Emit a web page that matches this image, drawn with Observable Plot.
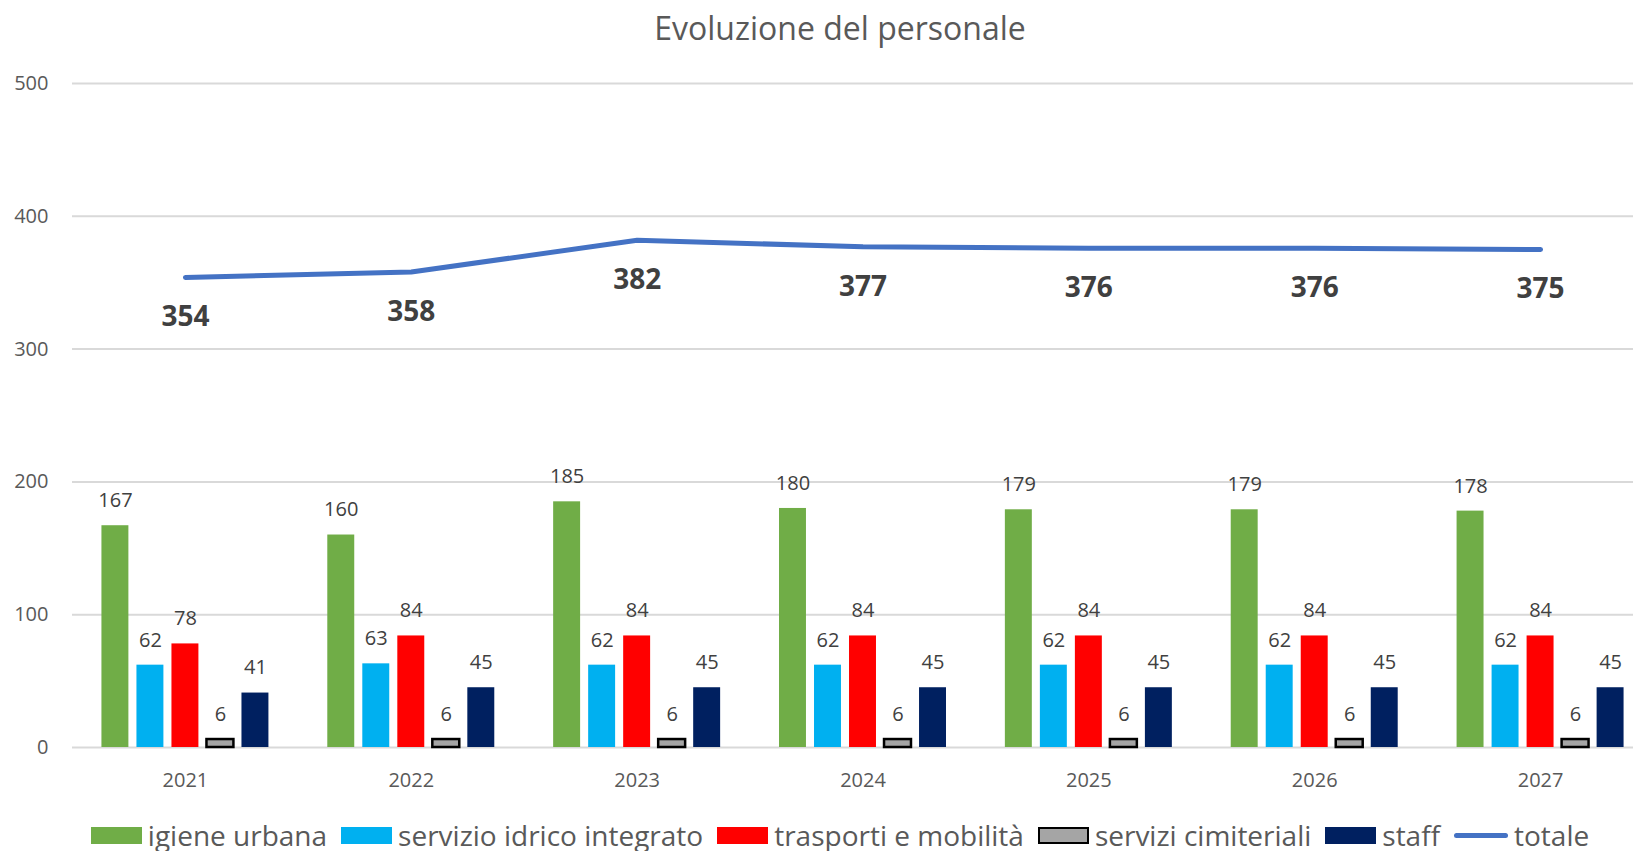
<!DOCTYPE html>
<html><head><meta charset="utf-8">
<script src="https://cdn.jsdelivr.net/npm/d3@7"></script>
<script src="https://cdn.jsdelivr.net/npm/@observablehq/plot@0.6"></script>
<style>
html,body{margin:0;padding:0;overflow:hidden;background:#fff;}
#wrap{position:relative;width:1680px;height:851px;font-family:"Open Sans",sans-serif;}
#title{position:absolute;left:0;width:1680px;top:0;height:56px;line-height:56px;text-align:center;font-size:32px;color:#595959;}
#chart{position:absolute;left:0;top:60px;width:1680px;height:740px;}
#chart svg{position:absolute;left:0;top:0;}
#legend{position:absolute;left:0;width:1680px;top:817px;height:36px;line-height:36px;display:flex;justify-content:center;align-items:center;font-size:28px;color:#595959;white-space:nowrap;}
.item{display:flex;align-items:center;margin:0 7px;}
.sw{width:51px;height:17px;margin-right:6px;box-sizing:border-box;}
.ln{width:54px;height:5px;border-radius:3px;margin-right:6px;}
</style>
</head><body>
<div id="wrap">
  <div id="title">Evoluzione del personale</div>
  <div id="chart"></div>
  <div id="legend"></div>
</div>
<script>
const years = ["2021","2022","2023","2024","2025","2026","2027"];
const series = ["igiene urbana","servizio idrico integrato","trasporti e mobilità","servizi cimiteriali","staff"];
const seriesColors = ["#70AD47","#00B0F0","#FF0000","#A5A5A5","#002060"];
const igieneUrbana = [167,160,185,180,179,179,178];
const servizioIdrico = [62,63,62,62,62,62,62];
const trasporti = [78,84,84,84,84,84,84];
const cimiteriali = [6,6,6,6,6,6,6];
const staff = [41,45,45,45,45,45,45];
const totale = [354,358,382,377,376,376,375];
const yTicks = [0,100,200,300,400,500];
const totaleLabel = "totale";
const totaleColor = "#4472C4";

const seriesValues = [igieneUrbana, servizioIdrico, trasporti, cimiteriali, staff];
const rows = years.flatMap((y,i)=>series.map((s,j)=>({year:y, series:s, value:seriesValues[j][i]})));
const totRows = years.map((y,i)=>({year:y, value:totale[i]}));

const W = 1680, H = 740, mL = 72, mR = 27, mT = 23, mB = 53;
const common = {width:W, height:H, marginLeft:mL, marginRight:mR, marginTop:mT, marginBottom:mB};

const back = Plot.plot({
  ...common,
  style:{background:"transparent", fontFamily:"'Open Sans', sans-serif", fontSize:"20px", color:"#595959"},
  x:{type:"point", domain:years, padding:0.5, round:false, axis:null},
  y:{domain:[0,500], axis:null},
  marks:[
    Plot.gridY(yTicks,{stroke:"#D9D9D9", strokeOpacity:1, strokeWidth:2}),
    Plot.axisY(yTicks,{tickSize:0, tickPadding:24, fontSize:20, label:null}),
    Plot.line(totRows,{x:"year", y:"value", stroke:totaleColor, strokeWidth:5, strokeLinecap:"round", strokeLinejoin:"round"}),
    Plot.text(totRows,{x:"year", y:"value", text:"value", dy:40, fontWeight:"bold", fontSize:28, fill:"#404040"})
  ]
});

const front = Plot.plot({
  ...common,
  style:{background:"transparent", fontFamily:"'Open Sans', sans-serif", fontSize:"20px", color:"#595959"},
  fx:{domain:years, paddingInner:0.225, paddingOuter:0.1125, round:false, label:null},
  x:{domain:series, paddingInner:0.23, paddingOuter:0.115, round:false, axis:null},
  y:{domain:[0,500], axis:null},
  color:{domain:series, range:seriesColors},
  marks:[
    Plot.barY(rows.filter(d=>d.series!=="servizi cimiteriali"),{fx:"year", x:"series", y:"value", fill:"series"}),
    Plot.barY(rows.filter(d=>d.series==="servizi cimiteriali"),{fx:"year", x:"series", y:"value", fill:"series", stroke:"#000", strokeWidth:2.5}),
    Plot.text(rows,{fx:"year", x:"series", y:"value", text:"value", dy:-25, fontSize:20, fill:"#404040"}),
    Plot.axisFx({anchor:"bottom", tickSize:0, tickPadding:25, fontSize:20, label:null})
  ]
});

const chart = document.getElementById("chart");
chart.appendChild(back);
chart.appendChild(front);

const legend = document.getElementById("legend");
series.forEach((s,j)=>{
  const it = document.createElement("div"); it.className="item";
  const sw = document.createElement("div"); sw.className="sw"; sw.style.background = seriesColors[j];
  if (s==="servizi cimiteriali") sw.style.border = "2.5px solid #000";
  const t = document.createElement("span"); t.textContent = s;
  it.appendChild(sw); it.appendChild(t); legend.appendChild(it);
});
{
  const it = document.createElement("div"); it.className="item";
  const ln = document.createElement("div"); ln.className="ln"; ln.style.background = totaleColor;
  const t = document.createElement("span"); t.textContent = totaleLabel;
  it.appendChild(ln); it.appendChild(t); legend.appendChild(it);
}
</script>
</body></html>
